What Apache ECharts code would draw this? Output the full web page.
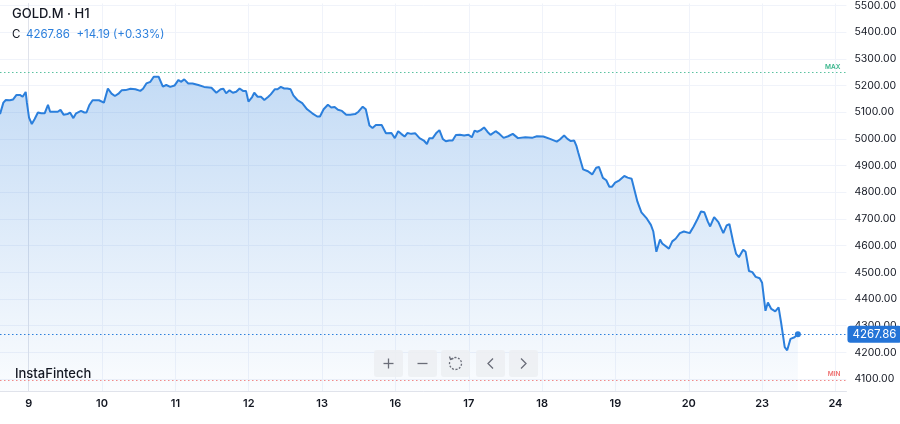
<!DOCTYPE html>
<html>
<head>
<meta charset="utf-8">
<script src="https://cdn.jsdelivr.net/npm/echarts@6/dist/echarts.min.js"></script>
<style>
html,body{margin:0;padding:0;background:#fff;}
#main{width:900px;height:424px;}
</style>
</head>
<body>
<div id="main"></div>
<script>
// Session hours since day "9" 00:00 (each day label = 24 h on the compressed axis)
const hours = [-9.4,-8.3,-7.5,-6.2,-5.1,-4.0,-2.9,-2.0,-1.0,-0.6,0.1,1.0,1.9,3.0,4.1,5.2,6.3,7.0,8.4,9.5,10.4,11.4,12.7,13.5,14.6,15.5,17.1,18.2,18.9,19.8,20.9,23.0,24.6,25.9,27.1,28.2,29.5,30.4,31.7,33.3,34.9,36.5,37.4,38.5,39.8,40.9,42.5,43.9,45.0,46.3,47.7,49.0,49.8,50.9,52.2,53.6,55.5,57.4,59.8,61.4,62.8,63.7,64.6,65.7,66.8,67.9,69.0,70.1,71.1,71.9,73.1,73.8,74.9,76.0,77.1,78.4,79.2,80.5,81.4,82.5,83.6,84.6,85.7,86.6,87.9,89.5,91.1,92.8,94.4,95.3,96.5,97.9,99.0,100.1,101.2,102.5,103.9,105.2,106.8,107.9,109.3,110.3,111.5,112.5,113.6,115.5,116.9,118.7,119.8,120.9,121.9,123.0,123.9,125.2,126.5,127.9,129.3,130.3,131.1,132.2,133.3,134.4,135.5,136.5,137.6,138.7,139.8,141.1,142.5,143.9,145.0,145.9,146.8,147.9,149.0,150.1,151.1,152.8,153.8,155.4,156.9,158.4,160.1,162.5,164.7,166.3,168.4,170.6,172.8,173.8,175.2,176.3,177.4,178.5,179.2,179.8,181.4,183.0,184.4,185.7,186.6,187.9,189.0,190.0,190.9,191.9,193.3,194.9,196.0,197.3,199.2,200.5,202.3,203.6,204.4,205.4,206.6,207.3,209.5,210.6,211.7,213.1,214.4,216.3,217.6,218.9,220.0,221.1,222.2,223.0,224.3,225.7,227.3,228.4,229.3,230.6,231.5,232.4,233.8,234.6,235.7,236.8,237.9,239.2,240.0,241.1,241.9,243.0,244.3,245.4,246.2,247.4,248.2,249.3,250.6,251.7];
const prices = [5093,5136,5146,5145,5148,5165,5165,5158,5176,5136,5080,5056,5074,5099,5096,5096,5128,5102,5102,5102,5109,5091,5093,5099,5078,5096,5105,5099,5099,5126,5145,5145,5136,5189,5170,5161,5171,5182,5183,5188,5186,5180,5188,5208,5214,5233,5233,5196,5202,5195,5200,5221,5214,5223,5208,5208,5202,5195,5192,5173,5186,5188,5171,5182,5173,5177,5189,5180,5180,5140,5157,5173,5158,5158,5146,5158,5167,5186,5186,5195,5189,5189,5186,5163,5146,5134,5111,5096,5084,5084,5111,5128,5118,5120,5109,5105,5091,5091,5093,5102,5121,5111,5050,5041,5052,5052,5021,5022,5003,5029,5019,5009,5022,5019,5021,5003,4994,4981,5003,5003,5021,5033,5000,4991,4994,4994,5015,5016,5013,5016,5006,5031,5027,5033,5043,5027,5015,5029,5021,5004,5010,5019,5003,5006,5004,5010,5009,5000,4990,4998,5013,5000,4992,4994,4975,4950,4886,4879,4867,4892,4895,4854,4845,4821,4821,4836,4845,4861,4855,4851,4765,4725,4701,4678,4653,4577,4623,4608,4589,4616,4626,4647,4653,4647,4672,4701,4728,4725,4691,4672,4707,4688,4647,4676,4681,4610,4569,4557,4585,4577,4505,4501,4483,4478,4461,4356,4387,4363,4354,4369,4313,4220,4208,4251,4257,4267.86];
const dayTicks = [0,24,48,72,96,120,144,168,192,216,240,264];
const dayLabels = ['9','10','11','12','13','16','17','18','19','20','23','24'];
const priceTicks = [4100,4200,4300,4400,4500,4600,4700,4800,4900,5000,5100,5200,5300,5400,5500];
const lastPrice = 4267.86;
const maxLevel = 5248;
const minLevel = 4097;
const symbolName = 'GOLD.M · H1';
const changeText = '+14.19 (+0.33%)';

const data = hours.map((h, i) => [h, prices[i]]);
const chart = echarts.init(document.getElementById('main'), null, {renderer: 'canvas'});
const FONT = 'Inter, "Noto Sans", sans-serif';
const gridColor = '#f0f3fa';
const axisColor = '#e0e3eb';

const btnX = [374, 408, 441, 476, 509];
const btnW = 29, btnY = 350, btnH = 27;
const btnGraphics = btnX.map(x => ({
  type: 'rect', shape: {x: x, y: btnY, width: btnW, height: btnH, r: 3},
  style: {fill: 'rgba(236,238,242,0.85)'}, z: 100
}));
const cx = i => btnX[i] + btnW / 2, cy = btnY + btnH / 2;
const iconStyle = {stroke: '#6a6d78', lineWidth: 1.3, fill: null};
const iconGraphics = [
  {type: 'line', shape: {x1: cx(0) - 5, y1: cy, x2: cx(0) + 5, y2: cy}, style: iconStyle, z: 101},
  {type: 'line', shape: {x1: cx(0), y1: cy - 5, x2: cx(0), y2: cy + 5}, style: iconStyle, z: 101},
  {type: 'line', shape: {x1: cx(1) - 5, y1: cy, x2: cx(1) + 5, y2: cy}, style: iconStyle, z: 101},
  {type: 'arc', shape: {cx: cx(2), cy: cy, r: 6, startAngle: -Math.PI * 0.75, endAngle: Math.PI * 1.1}, style: Object.assign({}, iconStyle, {lineDash: [2, 1.5]}), z: 101},
  {type: 'polyline', shape: {points: [[cx(2) - 6, cy - 7], [cx(2) - 5, cy - 4], [cx(2) - 2, cy - 5]]}, style: iconStyle, z: 101},
  {type: 'polyline', shape: {points: [[cx(3) + 2.5, cy - 5], [cx(3) - 2.5, cy], [cx(3) + 2.5, cy + 5]]}, style: iconStyle, z: 101},
  {type: 'polyline', shape: {points: [[cx(4) - 2.5, cy - 5], [cx(4) + 2.5, cy], [cx(4) - 2.5, cy + 5]]}, style: iconStyle, z: 101}
];

const option = {
  backgroundColor: '#ffffff',
  animation: false,
  grid: {left: 0, right: 46, top: 0, bottom: 33, containLabel: false},
  xAxis: {
    type: 'value',
    min: -9.405,
    max: 267.6,
    axisLine: {show: true, lineStyle: {color: axisColor}},
    axisTick: {show: false, customValues: dayTicks},
    splitLine: {show: true, lineStyle: {color: gridColor}},
    axisLabel: {
      customValues: dayTicks,
      formatter: v => dayLabels[Math.round(v / 24)] || '',
      color: '#131722', fontFamily: FONT, fontSize: 11, fontWeight: 600, margin: 7
    }
  },
  yAxis: {
    type: 'value',
    position: 'right',
    min: 4055.4,
    max: 5507.6,
    axisLine: {show: true, lineStyle: {color: axisColor}},
    axisTick: {show: false, customValues: priceTicks},
    splitLine: {show: true, lineStyle: {color: gridColor}},
    axisLabel: {
      customValues: priceTicks,
      formatter: v => v.toFixed(2),
      color: '#131722', fontFamily: FONT, fontSize: 10.5, margin: 8,
      showMinLabel: true, showMaxLabel: true
    }
  },
  series: [{
    type: 'line',
    data: data,
    showSymbol: false,
    smooth: false,
    lineStyle: {color: '#2b7fdc', width: 2},
    areaStyle: {
      color: new echarts.graphic.LinearGradient(0, 0, 0, 1, [
        {offset: 0, color: 'rgba(43,127,220,0.4)'},
        {offset: 1, color: 'rgba(43,127,220,0.03)'}
      ])
    },
    markPoint: {
      symbol: 'circle', symbolSize: 6,
      itemStyle: {color: '#2b7fdc'},
      label: {show: false},
      data: [{coord: [hours[hours.length - 1], lastPrice]}]
    },
    markLine: {
      symbol: 'none',
      silent: true,
      animation: false,
      data: [
        {yAxis: lastPrice, lineStyle: {color: '#2b7fdc', type: [1.5, 2.5], width: 1},
          label: {show: true, position: 'end', distance: 1, formatter: lastPrice.toFixed(2),
            backgroundColor: '#2474d7', color: '#fff', borderRadius: 3, padding: [3, 5, 2, 5],
            fontFamily: FONT, fontSize: 11.5}},
        {yAxis: maxLevel, lineStyle: {color: '#5bc2a0', type: [1.5, 2.5], width: 1},
          label: {show: true, position: 'insideEndTop', distance: [6, 2], formatter: 'MAX',
            color: '#37b58a', fontFamily: FONT, fontSize: 6.5, fontWeight: 600}},
        {yAxis: minLevel, lineStyle: {color: '#f08a8a', type: [1.5, 2.5], width: 1},
          label: {show: true, position: 'insideEndTop', distance: [6, 2], formatter: 'MIN',
            color: '#ee6f6f', fontFamily: FONT, fontSize: 6.5, fontWeight: 600}}
      ]
    }
  }],
  graphic: [
    {type: 'text', left: 12, top: 8, style: {text: symbolName, fill: '#131722', font: '500 13px ' + FONT}, z: 100},
    {type: 'text', left: 12, top: 29, style: {text: 'C', fill: '#131722', font: '11.5px ' + FONT}, z: 100},
    {type: 'text', left: 26, top: 29, style: {text: lastPrice.toFixed(2) + '  ' + changeText, fill: '#2b7fdc', font: '11.5px ' + FONT}, z: 100},
    {type: 'text', left: 15, top: 368, style: {text: 'InstaFintech', fill: '#131722', font: '500 13px ' + FONT}, z: 100}
  ].concat(btnGraphics, iconGraphics)
};
chart.setOption(option);
</script>
</body>
</html>
